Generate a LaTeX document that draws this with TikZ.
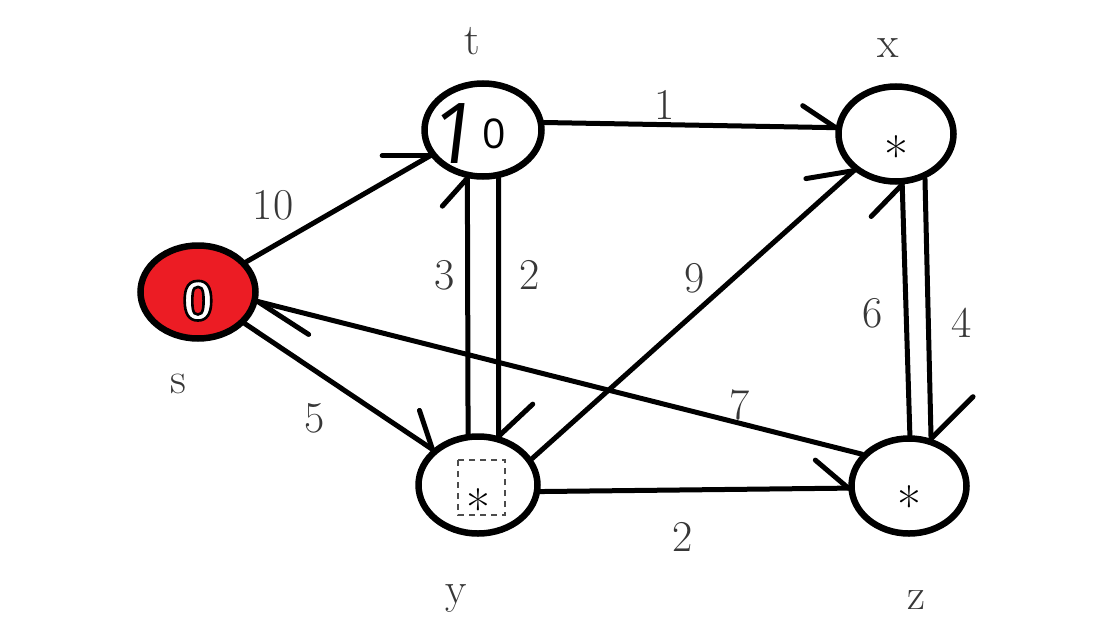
\documentclass[tikz,border=0pt]{standalone}
\usepackage{fontspec}
\usetikzlibrary{shapes.geometric,calc}
\newfontfamily\handfont[FakeSlant=0.12]{Open Sans}
\newfontfamily\handupright{Open Sans}
\newfontfamily\zerofont{Liberation Sans}
\definecolor{sred}{RGB}{236,28,36}
\definecolor{lbl}{RGB}{55,55,55}
\newcommand{\outlinedzero}{{\color{white}\special{pdf:literal direct 0 G 2 Tr 2.6 w}0\special{pdf:literal direct 0 Tr}}}
\begin{document}
\begin{tikzpicture}[x=1pt,y=-1pt,line cap=round,
  vert/.style={ellipse, draw, line width=6.5pt, inner sep=0pt, font=\fontsize{52}{52}\selectfont},
  edge/.style={line width=5pt},
  barb/.style={line width=5pt},
  wt/.style={text=lbl, font=\fontsize{44}{44}\selectfont, inner sep=0pt},
  nm/.style={text=lbl, font=\fontsize{44}{44}\selectfont, inner sep=0pt, anchor=base},
  dbox/.style={draw=black!70, line width=1.5pt, dash pattern=on 6pt off 5pt, line cap=butt}]
\fill[white] (0,0) rectangle (1102,626);
\useasboundingbox (0,0) rectangle (1102,626);

% vertices
\node[vert, fill=sred, minimum width=115pt, minimum height=93pt] (s) at (198,292)
  {\raisebox{-28pt}[0pt][0pt]{\zerofont\bfseries\fontsize{56}{56}\selectfont\outlinedzero}};
\node[vert, minimum width=117pt, minimum height=93pt] (t) at (483,130)
  {\raisebox{-33pt}[0pt][0pt]{\makebox[0pt][l]{\kern-55pt\handfont\fontsize{84}{84}\selectfont 1\kern6pt\raisebox{15pt}{\handupright\fontsize{41}{41}\selectfont 0}}}};
\node[vert, minimum width=115pt, minimum height=95pt] (x) at (896,134)
  {\raisebox{-40pt}[0pt][0pt]{*}};
\node[vert, minimum width=119pt, minimum height=97pt] (y) at (478,485)
  {\raisebox{-42pt}[0pt][0pt]{*}};
\node[vert, minimum width=115pt, minimum height=95pt] (z) at (909,486)
  {\raisebox{-38pt}[0pt][0pt]{*}};

\draw[dbox] ([shift={(-20,-25)}]y.center) rectangle ([shift={(27,30)}]y.center);

% edges
\draw[edge] (s.32) -- (t.206);   \draw[barb] (t.206) -- ++(-48,0);
\draw[edge] (t.7) -- (x.174);    \draw[barb] (x.174) -- ++(-33,-22);
\draw[edge] (t.288) -- (y.67);   \draw[barb] (y.67) -- ++(34,-32);
\draw[edge] (y.101) -- (t.252);  \draw[barb] (t.252) -- ++(-25,28);
\draw[edge] (s.-34) -- (y.142);  \draw[barb] (y.142) -- ++(-13,-39);
\draw[edge] (z.146) -- (s.-9);   \draw[barb] (s.-9) -- ++(51,33);
\draw[edge] (y.26) -- (x.221);   \draw[barb] (x.221) -- ++(-48,8);
\draw[edge] (y.-6) -- (z.182);   \draw[barb] (z.182) -- ++(-33,-28);
\draw[edge] (z.89) -- (x.-83);   \draw[barb] (x.-83) -- ++(-31,32);
\draw[edge] (x.-57) -- (z.65);   \draw[barb] (z.65) -- ++(42,-42);

% weights
\node[wt] (w10) at (273,205) {10};
\node[wt] (w1)  at (665,105) {1};
\node[wt] (w3)  at (445,275) {3};
\node[wt] (w2a) at (530,275) {2};
\node[wt] (w9)  at (695,278) {9};
\node[wt] (w6)  at (873,313) {6};
\node[wt] (w4)  at (962,323) {4};
\node[wt] (w7)  at (740,405) {7};
\node[wt] (w5)  at (315,418) {5};
\node[wt] (w2b) at (683,537) {2};

% names
\node[nm] (ls) at (178,393) {s};
\node[nm] (lt) at (472,55) {t};
\node[nm] (lx) at (888,57) {x};
\node[nm] (ly) at (456,603) {y};
\node[nm] (lz) at (916,609) {z};
\end{tikzpicture}
\end{document}
